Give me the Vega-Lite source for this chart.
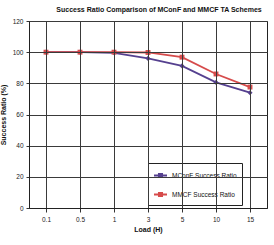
{
  "$schema": "https://vega.github.io/schema/vega-lite/v6.json",
  "width": 238,
  "height": 187,
  "autosize": {"type": "none"},
  "padding": {"left": 29, "top": 21, "right": 7, "bottom": 37},
  "background": "white",
  "title": {
    "text": "Success Ratio Comparison of MConF and MMCF TA Schemes",
    "fontSize": 7,
    "fontWeight": "bold",
    "font": "'Liberation Sans Narrow', 'Liberation Sans', sans-serif",
    "color": "#111",
    "anchor": "middle",
    "dx": 11,
    "offset": 5
  },
  "config": {
    "view": {"stroke": "#222", "strokeWidth": 1},
    "font": "'Liberation Sans Narrow', 'Liberation Sans', sans-serif"
  },
  "data": {
    "values": [
      {"load": "0.1", "series": "MConF Success Ratio", "ratio": 100},
      {"load": "0.5", "series": "MConF Success Ratio", "ratio": 100},
      {"load": "1", "series": "MConF Success Ratio", "ratio": 99.6},
      {"load": "3", "series": "MConF Success Ratio", "ratio": 96},
      {"load": "5", "series": "MConF Success Ratio", "ratio": 91.2},
      {"load": "10", "series": "MConF Success Ratio", "ratio": 80.6},
      {"load": "15", "series": "MConF Success Ratio", "ratio": 74},
      {"load": "0.1", "series": "MMCF Success Ratio", "ratio": 100},
      {"load": "0.5", "series": "MMCF Success Ratio", "ratio": 100},
      {"load": "1", "series": "MMCF Success Ratio", "ratio": 100},
      {"load": "3", "series": "MMCF Success Ratio", "ratio": 99.8},
      {"load": "5", "series": "MMCF Success Ratio", "ratio": 96.8},
      {"load": "10", "series": "MMCF Success Ratio", "ratio": 86},
      {"load": "15", "series": "MMCF Success Ratio", "ratio": 77.6}
    ]
  },
  "encoding": {
    "x": {
      "field": "load",
      "type": "ordinal",
      "sort": ["0.1", "0.5", "1", "3", "5", "10", "15"],
      "scale": {"paddingInner": 0, "paddingOuter": 0},
      "axis": {
        "title": "Load (H)",
        "titleFontSize": 7,
        "titleFontWeight": "bold",
        "titleColor": "#111",
        "titlePadding": 3,
        "labelAngle": 0,
        "labelFontSize": 6.5,
        "labelColor": "#222",
        "labelPadding": 4,
        "bandPosition": 0,
        "grid": true,
        "gridColor": "#3a3a3a",
        "gridOpacity": 1,
        "gridWidth": 1,
        "ticks": true,
        "tickSize": 4,
        "tickColor": "#333",
        "domainColor": "#222",
        "zindex": 1
      }
    },
    "y": {
      "field": "ratio",
      "type": "quantitative",
      "scale": {"domain": [0, 120], "nice": false},
      "axis": {
        "title": "Success Ratio (%)",
        "titleFontSize": 7,
        "titleFontWeight": "bold",
        "titleColor": "#111",
        "titlePadding": 6,
        "values": [0, 20, 40, 60, 80, 100, 120],
        "labelFontSize": 6.5,
        "labelColor": "#222",
        "labelPadding": 3,
        "grid": true,
        "gridColor": "#3a3a3a",
        "gridOpacity": 1,
        "gridWidth": 1,
        "tickSize": 3,
        "tickColor": "#333",
        "domainColor": "#222",
        "zindex": 1
      }
    }
  },
  "layer": [
    {
      "mark": {"type": "line", "strokeWidth": 1.8},
      "encoding": {
        "color": {
          "field": "series",
          "type": "nominal",
          "scale": {
            "domain": ["MConF Success Ratio", "MMCF Success Ratio"],
            "range": ["#55408f", "#d64b4b"]
          },
          "legend": {
            "title": null,
            "orient": "none",
            "legendX": 119,
            "legendY": 142,
            "direction": "vertical",
            "fillColor": "white",
            "strokeColor": "#222",
            "padding": 5,
            "rowPadding": 6,
            "labelFontSize": 6.5,
            "labelColor": "#111",
            "symbolType": "M-1,0H1M-0.25,-0.25H0.25V0.25H-0.25Z",
            "symbolSize": 169,
            "symbolStrokeWidth": 1.8
          }
        }
      }
    },
    {
      "transform": [{"filter": "datum.series === 'MConF Success Ratio'"}],
      "mark": {"type": "point", "filled": true, "size": 26, "opacity": 1, "shape": "diamond", "color": "#55408f"}
    },
    {
      "transform": [{"filter": "datum.series === 'MMCF Success Ratio'"}],
      "mark": {"type": "point", "filled": true, "size": 24, "opacity": 1, "shape": "square", "color": "#d64b4b"}
    }
  ]
}
